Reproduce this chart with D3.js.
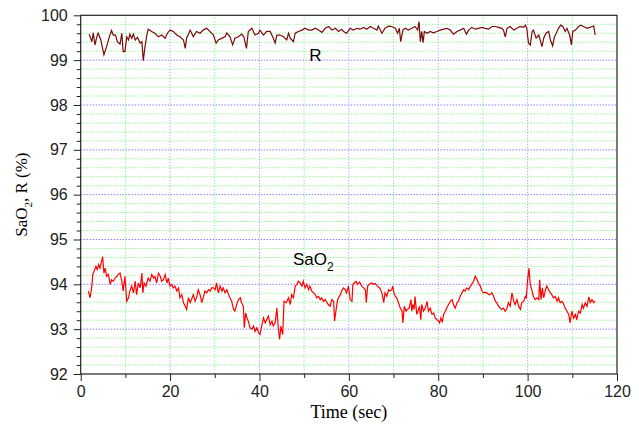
<html lang='en'>
<head>
  <meta charset='UTF-8'/>
  <title>SaO2 and R vs time</title>
  <script src='https://d3js.org/d3.v7.min.js'></script>
  <style>
    body { margin: 0; background: #fff; }
    .tick text { font-family: 'Liberation Sans', Arial, sans-serif; font-size: 16px; fill: #222; }
    .axis path, .axis line { stroke: #222; }
  </style>
</head>
<body>
  <svg id='chart' width='639' height='428'></svg>
</body>
</html>

<script>
// R series (time in sec, value in %)
const rTime = [1.9,2.5,2.8,3.2,3.6,3.9,4.5,5.2,5.8,6.4,6.9,7.3,7.8,8.2,8.8,9.2,9.5,9.9,10.3,10.7,11.0,11.4,11.8,12.2,12.7,13.3,13.7,14.0,14.4,14.8,15.1,15.9,16.6,17.4,18.1,18.9,19.4,20.0,20.7,21.5,22.2,23.0,23.4,23.7,24.5,25.2,25.9,26.7,27.4,28.2,28.9,29.7,30.3,30.8,31.6,32.3,32.7,33.4,34.0,34.5,35.3,36.0,36.5,37.1,37.5,38.3,39.0,39.8,40.1,40.9,41.6,42.4,43.1,43.5,43.9,44.6,45.4,46.1,46.5,46.9,47.6,48.0,48.7,49.5,50.2,51.0,51.7,52.5,53.2,54.0,54.7,55.5,56.2,57.0,57.7,58.4,58.8,59.5,60.3,61.0,61.8,62.5,63.3,64.0,64.8,65.5,66.3,66.6,67.4,68.1,68.9,69.6,70.4,70.9,71.3,71.6,72.1,72.6,73.3,74.1,74.8,75.4,75.7,76.0,76.3,76.6,76.9,77.5,78.2,78.9,79.7,80.4,81.2,81.9,82.7,83.4,84.2,84.9,85.7,86.3,86.8,87.5,88.3,89.0,89.8,90.5,91.3,92.0,92.8,93.5,94.2,94.6,95.0,95.4,96.1,96.9,97.6,98.3,99.1,99.5,99.8,100.2,100.6,101.0,101.3,101.9,102.5,102.8,103.2,103.6,104.1,104.7,105.1,105.6,106.0,106.4,106.9,107.4,107.9,108.4,108.8,109.4,109.8,110.1,110.7,111.4,111.9,112.5,113.3,113.9,114.4,114.8,115.1];
const rValue = [99.58,99.41,99.61,99.34,99.52,99.60,99.45,99.12,99.30,99.52,99.66,99.56,99.56,99.41,99.36,99.60,99.19,99.19,99.52,99.45,99.58,99.49,99.58,99.45,99.51,99.38,99.41,98.99,99.30,99.56,99.69,99.64,99.60,99.52,99.56,99.49,99.60,99.67,99.64,99.56,99.52,99.45,99.26,99.49,99.67,99.52,99.64,99.60,99.67,99.71,99.64,99.56,99.38,99.45,99.49,99.52,99.61,99.52,99.34,99.49,99.52,99.58,99.52,99.26,99.64,99.71,99.56,99.60,99.67,99.56,99.64,99.64,99.49,99.38,99.56,99.56,99.52,99.45,99.60,99.49,99.41,99.60,99.64,99.67,99.71,99.67,99.67,99.71,99.67,99.62,99.71,99.75,99.67,99.71,99.64,99.69,99.64,99.60,99.71,99.67,99.71,99.69,99.73,99.69,99.75,99.71,99.67,99.76,99.60,99.71,99.76,99.75,99.71,99.60,99.71,99.41,99.67,99.71,99.67,99.71,99.75,99.67,99.86,99.41,99.64,99.39,99.64,99.60,99.64,99.61,99.64,99.67,99.69,99.71,99.67,99.58,99.64,99.67,99.71,99.58,99.67,99.73,99.69,99.71,99.73,99.71,99.69,99.75,99.75,99.73,99.71,99.67,99.52,99.71,99.75,99.67,99.71,99.75,99.73,99.78,99.71,99.38,99.34,99.64,99.67,99.49,99.56,99.45,99.30,99.49,99.60,99.64,99.45,99.32,99.52,99.60,99.71,99.78,99.75,99.64,99.71,99.56,99.34,99.64,99.67,99.75,99.78,99.75,99.71,99.73,99.75,99.76,99.56];

// SaO2 series
const sTime = [1.7,2.1,2.5,2.7,3.0,3.4,3.7,4.0,4.3,4.6,4.9,5.2,5.5,5.8,6.2,6.6,6.9,7.3,7.7,8.1,8.4,8.8,9.2,9.5,9.9,10.3,10.7,11.0,11.4,11.8,12.2,12.5,12.9,13.3,13.7,13.9,14.2,14.6,15.1,15.5,15.9,16.3,16.6,17.0,17.4,17.8,18.1,18.5,18.9,19.3,19.6,20.0,20.4,20.7,21.1,21.5,21.9,22.2,22.6,23.0,23.4,23.7,24.1,24.5,24.8,25.2,25.6,26.0,26.3,26.7,27.1,27.5,27.8,28.2,28.6,29.0,29.3,29.7,30.1,30.4,30.8,31.2,31.6,31.9,32.3,32.7,33.1,33.4,33.8,34.2,34.5,34.9,35.3,35.7,36.0,36.4,36.6,36.9,37.2,37.5,37.9,38.3,38.7,39.0,39.4,39.8,40.1,40.5,40.9,41.3,41.6,42.0,42.4,42.8,43.1,43.5,43.9,44.2,44.5,44.8,45.2,45.5,46.0,46.5,46.9,47.2,47.6,48.0,48.4,48.7,49.1,49.5,49.8,50.2,50.6,51.0,51.3,51.7,52.1,52.5,52.8,53.2,53.6,53.9,54.3,54.7,55.1,55.4,55.8,56.2,56.6,56.8,57.2,57.5,58.1,58.4,58.8,59.2,59.5,59.9,60.3,60.7,60.9,61.2,61.6,61.9,62.4,62.9,63.3,63.7,63.9,64.2,64.6,65.1,65.5,65.9,66.4,66.9,67.4,67.8,68.1,68.5,68.9,69.2,69.6,69.8,70.1,70.4,70.7,71.1,71.5,71.9,72.1,72.4,72.8,73.1,73.5,73.9,74.1,74.3,74.6,74.8,75.2,75.6,75.8,76.1,76.3,76.7,77.1,77.5,77.8,78.2,78.6,79.0,79.3,79.7,80.1,80.3,80.6,80.9,81.2,81.6,81.9,82.3,82.7,83.1,83.4,83.8,84.2,84.5,84.9,85.3,85.7,86.0,86.4,86.8,87.2,87.5,87.9,88.3,88.7,89.0,89.4,89.8,90.1,90.5,90.9,91.3,91.6,92.0,92.4,92.8,93.1,93.5,93.9,94.2,94.6,95.0,95.4,95.7,96.1,96.5,96.9,97.2,97.6,98.0,98.4,98.7,99.1,99.5,99.7,100.0,100.3,100.6,101.0,101.3,101.7,102.1,102.5,102.7,103.0,103.3,103.6,104.0,104.3,104.7,105.1,105.4,105.8,106.2,106.6,106.9,107.3,107.7,108.1,108.4,108.8,109.2,109.5,109.9,110.3,110.7,111.0,111.4,111.8,112.2,112.5,112.9,113.3,113.7,114.0,114.4,114.8,115.1];
const sValue = [93.85,93.70,93.96,94.22,94.29,94.40,94.33,94.44,94.36,94.48,94.62,94.25,94.36,94.18,94.22,94.00,94.10,94.07,94.14,94.18,94.22,94.25,94.07,93.85,94.18,93.62,93.70,93.85,93.96,93.81,94.07,93.77,94.03,93.92,94.25,93.81,94.03,93.96,94.14,94.07,94.22,94.14,94.18,94.03,94.25,94.18,94.07,94.10,94.22,94.03,94.14,93.96,94.00,93.92,93.96,93.85,93.92,93.70,93.77,93.59,93.51,93.44,93.70,93.59,93.66,93.77,93.62,93.73,93.88,93.77,93.59,93.73,93.85,93.81,93.88,93.85,93.92,93.92,93.88,94.03,93.81,93.96,93.85,93.92,93.81,93.88,93.77,93.70,93.62,93.44,93.40,93.55,93.66,93.70,93.59,93.51,93.03,93.36,93.25,93.18,93.03,93.00,93.07,92.95,93.03,92.92,92.88,93.07,93.25,93.14,93.21,93.29,93.10,93.18,93.07,93.14,93.47,93.03,92.77,93.07,92.88,93.62,93.59,93.70,93.55,93.77,93.70,93.96,94.00,94.07,94.03,93.96,94.07,93.92,94.00,93.88,93.96,93.85,93.81,93.77,93.70,93.73,93.66,93.70,93.62,93.66,93.59,93.55,93.51,93.66,93.62,93.18,93.47,93.66,93.77,93.85,93.92,93.88,93.81,93.96,93.66,93.62,94.00,94.03,94.07,94.00,94.05,93.96,93.92,93.88,93.59,93.96,94.00,94.03,94.00,94.02,93.96,93.92,93.81,93.59,93.81,93.73,93.88,93.85,93.88,93.96,93.81,93.73,93.70,93.59,93.47,93.40,93.14,93.51,93.40,93.44,93.47,93.66,93.40,93.55,93.44,93.73,93.33,93.44,93.51,93.21,93.55,93.40,93.47,93.62,93.40,93.47,93.33,93.36,93.25,93.21,93.18,93.14,93.25,93.15,93.33,93.40,93.47,93.55,93.62,93.66,93.55,93.47,93.59,93.62,93.73,93.81,93.88,93.85,93.92,93.88,93.96,94.00,94.07,94.18,94.10,94.03,93.96,93.85,93.81,93.82,93.81,93.77,93.77,93.81,93.73,93.62,93.59,93.51,93.47,93.44,93.47,93.40,93.47,93.59,93.51,93.81,93.62,93.55,93.66,93.51,93.44,93.59,93.62,93.73,93.70,94.10,94.36,94.00,93.85,93.73,93.66,93.70,93.66,94.10,93.66,93.92,93.70,93.88,93.96,93.88,93.81,93.77,93.70,93.73,93.62,93.70,93.59,93.62,93.55,93.47,93.40,93.33,93.14,93.40,93.25,93.33,93.21,93.40,93.36,93.55,93.47,93.59,93.51,93.72,93.59,93.66,93.59,93.62];

const xTicks = [0, 20, 40, 60, 80, 100, 120];
const yTicks = [92, 93, 94, 95, 96, 97, 98, 99, 100];

const W = 639, H = 428;
const margin = { top: 15.3, right: 22, bottom: 54, left: 80.7 };
const width = W - margin.left - margin.right;
const height = H - margin.top - margin.bottom;

const svg = d3.select('#chart');
const chart = svg.append('g').attr('transform', `translate(${margin.left},${margin.top})`);

const x = d3.scaleLinear().domain([0, 120]).range([0, width]);
const y = d3.scaleLinear().domain([92, 100]).range([height, 0]);

// minor grid (green)
const xMinor = d3.range(10, 120, 20);
const yMinor = d3.range(92.2, 100, 0.2).filter(v => Math.abs(v - Math.round(v)) > 0.05);
chart.append('g').selectAll('line').data(yMinor).join('line')
  .attr('x1', 0).attr('x2', width)
  .attr('y1', d => y(d)).attr('y2', d => y(d))
  .attr('stroke', '#5cf55c').attr('stroke-dasharray', '1,2');
chart.append('g').selectAll('line').data(xMinor).join('line')
  .attr('y1', 0).attr('y2', height)
  .attr('x1', d => x(d)).attr('x2', d => x(d))
  .attr('stroke', '#5cf55c').attr('stroke-dasharray', '1,2');

// major grid (blue)
chart.append('g').selectAll('line').data(yTicks.slice(1, -1)).join('line')
  .attr('x1', 0).attr('x2', width)
  .attr('y1', d => y(d)).attr('y2', d => y(d))
  .attr('stroke', '#4a4aff').attr('stroke-dasharray', '1,2');
chart.append('g').selectAll('line').data(xTicks.slice(1, -1)).join('line')
  .attr('y1', 0).attr('y2', height)
  .attr('x1', d => x(d)).attr('x2', d => x(d))
  .attr('stroke', '#8c8cff').attr('stroke-dasharray', '1,2');

// lines
const line = d3.line().x(d => x(d[0])).y(d => y(d[1]));
chart.append('path')
  .datum(rTime.map((t, i) => [t, rValue[i]]))
  .attr('d', line).attr('fill', 'none')
  .attr('stroke', '#7a0a0a').attr('stroke-width', 1.2);
chart.append('path')
  .datum(sTime.map((t, i) => [t, sValue[i]]))
  .attr('d', line).attr('fill', 'none')
  .attr('stroke', '#ff0000').attr('stroke-width', 1.2);

// frame
chart.append('rect').attr('width', width).attr('height', height)
  .attr('fill', 'none').attr('stroke', '#222').attr('stroke-width', 1.2);

// axes
chart.append('g').attr('class', 'axis')
  .attr('transform', `translate(0,${height})`)
  .call(d3.axisBottom(x).tickValues(xTicks).tickSize(7).tickPadding(5))
  .call(g => g.select('.domain').remove());
chart.append('g').attr('class', 'axis')
  .attr('transform', `translate(0,${height})`)
  .call(d3.axisBottom(x).tickValues(xMinor).tickSize(4).tickFormat(''))
  .call(g => g.select('.domain').remove());
chart.append('g').attr('class', 'axis')
  .call(d3.axisLeft(y).tickValues(yTicks).tickSize(7).tickPadding(6))
  .call(g => g.select('.domain').remove());
chart.append('g').attr('class', 'axis')
  .call(d3.axisLeft(y).tickValues(yMinor).tickSize(4).tickFormat(''))
  .call(g => g.select('.domain').remove());

// series labels
chart.append('text')
  .attr('x', x(52.5)).attr('y', y(98.98))
  .attr('text-anchor', 'middle')
  .style('font', '17px "Liberation Sans", Arial, sans-serif')
  .text('R');
const sLab = chart.append('text')
  .attr('x', x(47.5)).attr('y', y(94.44))
  .style('font', '17px "Liberation Sans", Arial, sans-serif');
sLab.append('tspan').text('SaO');
sLab.append('tspan').attr('dy', 6).style('font-size', '12px').text('2');

// axis titles
svg.append('text')
  .attr('x', margin.left + width / 2).attr('y', 418)
  .attr('text-anchor', 'middle')
  .style('font', '18px "Liberation Serif", "Times New Roman", serif')
  .text('Time (sec)');
const yt = svg.append('text')
  .attr('transform', `translate(27,${margin.top + height / 2}) rotate(-90)`)
  .attr('text-anchor', 'middle')
  .style('font', '17px "Liberation Serif", "Times New Roman", serif');
yt.append('tspan').text('SaO');
yt.append('tspan').attr('dy', 5).style('font-size', '11px').text('2');
yt.append('tspan').attr('dy', -5).text(', R (%)');
</script>
